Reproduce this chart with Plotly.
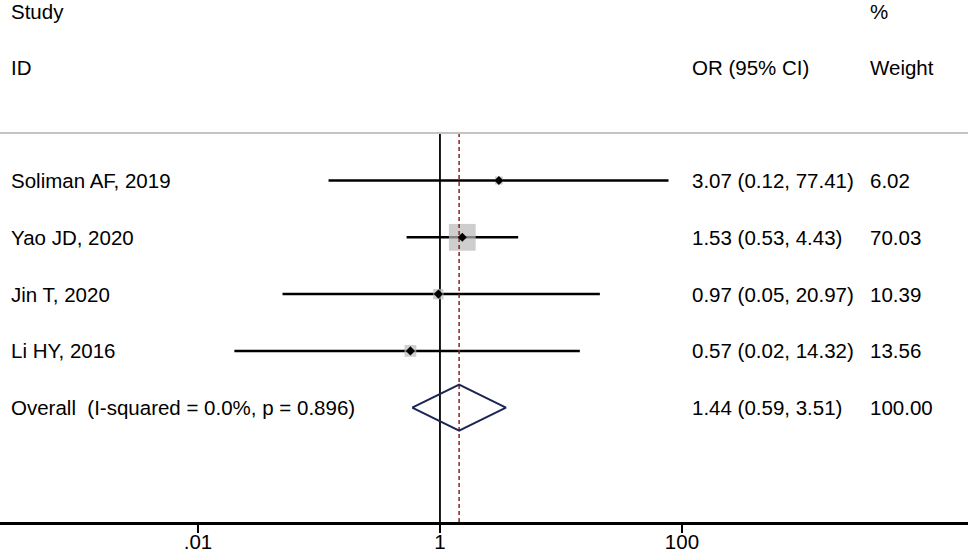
import numpy as np
import plotly.graph_objects as go

# study data
studies = ['Soliman AF, 2019', 'Yao JD, 2020', 'Jin T, 2020', 'Li HY, 2016']
odds = [3.07, 1.53, 0.97, 0.57]
ci_low = [0.12, 0.53, 0.05, 0.02]
ci_high = [77.41, 4.43, 20.97, 14.32]
weights = [6.02, 70.03, 10.39, 13.56]

overall_label = 'Overall  (I-squared = 0.0%, p = 0.896)'
overall_or = 1.44
overall_low = 0.59
overall_high = 3.51
overall_weight = 100.00

tick_vals = [0.01, 1, 100]
tick_text = ['.01', '1', '100']

FONT = 'Liberation Sans, Arial, sans-serif'
FS = 20.5
rows = list(range(len(studies)))
r_overall = len(studies)
y_top = -0.836
y_bot = 6.012

fig = go.Figure()

# CI lines
for r, lo, hi in zip(rows, ci_low, ci_high):
    fig.add_trace(go.Scatter(x=[lo, hi], y=[r, r], mode='lines',
                             line=dict(color='black', width=2.5), hoverinfo='skip'))

# reference line at 1
fig.add_trace(go.Scatter(x=[1, 1], y=[y_top, y_bot], mode='lines',
                         line=dict(color='black', width=1.8), hoverinfo='skip'))

# weight boxes
fig.add_trace(go.Scatter(x=odds, y=rows, mode='markers',
                         marker=dict(symbol='square', color='#b9b9b9',
                                     size=[3.2 * np.sqrt(w) for w in weights],
                                     line=dict(width=0))))

# overall estimate line
fig.add_trace(go.Scatter(x=[overall_or, overall_or], y=[y_top, y_bot], mode='lines',
                         line=dict(color='#8b2323', width=1.5, dash='4px,3px'), hoverinfo='skip'))

# point estimates
fig.add_trace(go.Scatter(x=odds, y=rows, mode='markers',
                         marker=dict(symbol='diamond', color='black', size=7)))

# overall diamond
h = 0.405
fig.add_trace(go.Scatter(x=[overall_low, overall_or, overall_high, overall_or, overall_low],
                         y=[r_overall, r_overall - h, r_overall, r_overall + h, r_overall],
                         mode='lines', line=dict(color='#1c2552', width=2), hoverinfo='skip'))

ann = []
def txt(x, y, s):
    ann.append(dict(x=x, y=y, xref='paper', yref='y', text=s, showarrow=False,
                    xanchor='left', yanchor='middle', font=dict(family=FONT, size=FS, color='black')))

c1, c2, c3 = 9 / 968, 690 / 968, 868 / 968
txt(c1, -2.984, 'Study')
txt(c3, -2.984, '%')
txt(c1, -1.998, 'ID')
txt(c2, -1.998, 'OR (95% CI)')
txt(c3, -1.998, 'Weight')

for r, s, o, lo, hi, w in zip(rows, studies, odds, ci_low, ci_high, weights):
    txt(c1, r, s)
    txt(c2, r, f'{o:.2f} ({lo:.2f}, {hi:.2f})')
    txt(c3, r, f'{w:.2f}')

txt(c1, r_overall, overall_label)
txt(c2, r_overall, f'{overall_or:.2f} ({overall_low:.2f}, {overall_high:.2f})')
txt(c3, r_overall, f'{overall_weight:.2f}')

fig.update_layout(
    width=968, height=552,
    margin=dict(l=0, r=0, t=0, b=30),
    paper_bgcolor='white', plot_bgcolor='white',
    showlegend=False,
    annotations=ann,
    shapes=[dict(type='line', xref='paper', yref='y', x0=0, x1=1, y0=y_top, y1=y_top,
                 line=dict(color='#c4c4c4', width=2))],
    xaxis=dict(type='log', range=[-3.636, 4.364], showgrid=False, zeroline=False,
               showline=True, linecolor='black', linewidth=3, automargin=False,
               ticks='outside', ticklen=8, tickwidth=1.5, tickcolor='black',
               tickvals=tick_vals, ticktext=tick_text, ticklabelstandoff=-9,
               tickfont=dict(family=FONT, size=FS, color='black')),
    yaxis=dict(range=[y_bot, -3.178], showgrid=False, zeroline=False,
               showticklabels=False, showline=False, fixedrange=True),
)

fig.write_html('out.html', config={'displayModeBar': False},
               post_script="document.body.style.margin='0';")
